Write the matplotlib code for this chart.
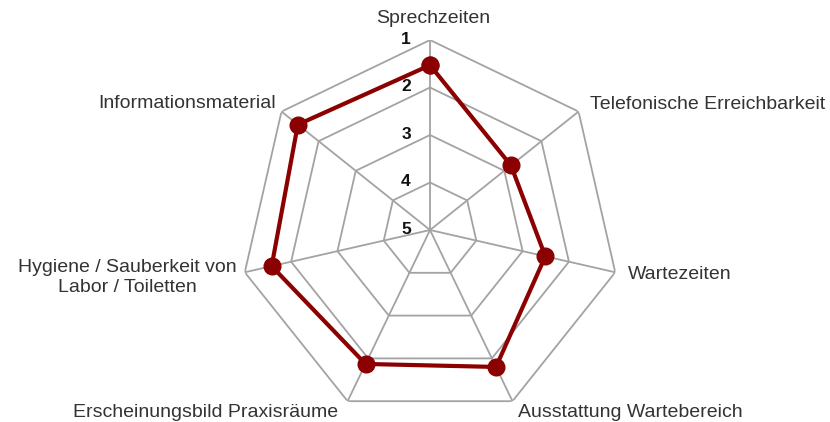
import numpy as np
import matplotlib
matplotlib.use("Agg")
import matplotlib.pyplot as plt

plt.rcParams['font.family'] = ['Liberation Sans', 'DejaVu Sans']

# categories (clockwise from top) and mean ratings (1 = best, 5 = worst)
categories = ["Sprechzeiten", "Telefonische Erreichbarkeit", "Wartezeiten",
              "Ausstattung Wartebereich", "Erscheinungsbild Praxisräume",
              "Hygiene / Sauberkeit von\nLabor / Toiletten", "Informationsmaterial"]
ratings = [1.53, 2.82, 2.51, 1.80, 1.87, 1.58, 1.44]
levels = [1, 2, 3, 4, 5]

# label placement (pixel offsets from outer vertex, alignment)
label_pos = [((3, 22), 'center', 'center'),
             ((11, 7), 'left', 'center'),
             ((13, -2), 'left', 'center'),
             ((6, -11), 'left', 'center'),
             ((-9, -11), 'right', 'center'),
             ((-8, -5), 'right', 'center'),
             ((-6, 8), 'right', 'center')]

n = len(categories)
angles = np.linspace(0, 2 * np.pi, n, endpoint=False)
ang_closed = np.append(angles, angles[0])

fig = plt.figure(figsize=(8.3, 4.22), dpi=100)
ax = fig.add_axes([0.2892, 0.0047, 0.4578, 0.9005], projection='polar')
ax.set_theta_offset(np.pi / 2)
ax.set_theta_direction(-1)
ax.set_ylim(5, 1)
ax.grid(False)
ax.set_xticks([])
ax.set_yticks([])
ax.spines['polar'].set_visible(False)
ax.patch.set_visible(False)

grid_col = '#a3a3a3'
for lv in levels[:-1]:
    ax.plot(ang_closed, [lv] * (n + 1), color=grid_col, lw=1.3, zorder=1)
for a in angles:
    ax.plot([a, a], [5, 1], color=grid_col, lw=1.3, zorder=1)

vals = np.append(ratings, ratings[0])
ax.plot(ang_closed, vals, color='#8B0000', lw=3, marker='o', markersize=12,
        zorder=3, clip_on=False)

for lv in levels:
    ax.annotate(str(lv), xy=(0, lv), xytext=(-24, 1), textcoords='offset pixels',
                ha='center', va='center', fontsize=12.5, fontweight='bold',
                color='#111111', annotation_clip=False)

for a, lab, (off, ha, va) in zip(angles, categories, label_pos):
    ax.annotate(lab, xy=(a, 1), xytext=off, textcoords='offset pixels',
                ha=ha, va=va, multialignment='center', fontsize=14,
                color='#333333', annotation_clip=False)

fig.savefig('out.png', dpi=100)
